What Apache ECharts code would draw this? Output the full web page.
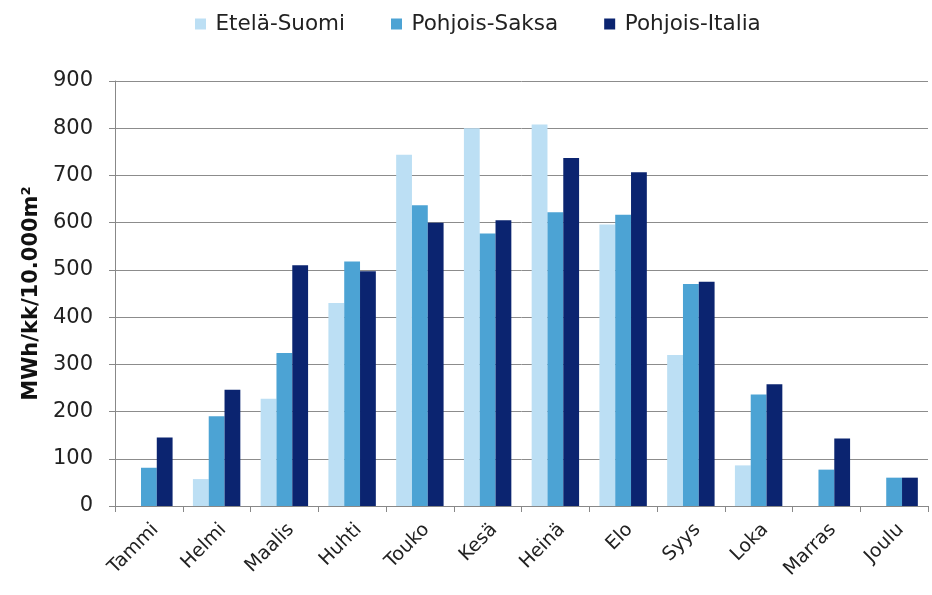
<!DOCTYPE html>
<html><head><meta charset="utf-8">
<script src="https://cdn.jsdelivr.net/npm/echarts@6/dist/echarts.min.js"></script>
<style>html,body{margin:0;padding:0;background:#fff}#c{width:932px;height:595px}</style>
</head><body><div id="c"></div>
<script>
const categories = ['Tammi','Helmi','Maalis','Huhti','Touko','Kesä','Heinä','Elo','Syys','Loka','Marras','Joulu'];
const seriesNames = ['Etelä-Suomi','Pohjois-Saksa','Pohjois-Italia'];
const eteläSuomi = [0, 57, 227, 430, 744, 800, 808, 596, 320, 86, 0, 0];
const pohjoisSaksa = [81, 190, 324, 518, 637, 577, 622, 617, 470, 236, 77, 60];
const pohjoisItalia = [145, 246, 510, 497, 600, 605, 737, 707, 475, 258, 143, 60];
const yTicks = {min: 0, max: 900, interval: 100};
const colors = ['#bcdff4', '#4ca3d4', '#0b2470'];

const chart = echarts.init(document.getElementById('c'), null, {renderer: 'canvas'});
const font = 'DejaVu Sans';
chart.setOption({
  animation: false,
  color: colors,
  textStyle: {fontFamily: font},
  legend: {
    top: 8, left: 190,
    itemWidth: 20, itemHeight: 11, itemGap: 46,
    icon: 'path://M0,0h10v10h-10z',
    textStyle: {fontSize: 21.5, color: '#222', fontFamily: font},
    data: seriesNames
  },
  grid: {left: 115, right: 4, top: 81, bottom: 89},
  xAxis: {
    type: 'category', data: categories,
    axisLine: {lineStyle: {color: '#888'}},
    axisTick: {show: true, alignWithLabel: false, length: 6, lineStyle: {color: '#888'}},
    axisLabel: {rotate: 45, fontSize: 19, color: '#222', margin: 14, interval: 0,
                verticalAlign: 'top', fontFamily: font}
  },
  yAxis: {
    type: 'value', min: yTicks.min, max: yTicks.max, interval: yTicks.interval,
    name: 'MWh/kk/10.000m²', nameLocation: 'middle', nameGap: 73,
    nameTextStyle: {fontSize: 21, fontWeight: 'bold', color: '#111', fontFamily: font},
    axisLine: {show: true, lineStyle: {color: '#888'}},
    axisTick: {show: true, length: 6, lineStyle: {color: '#888'}},
    axisLabel: {fontSize: 21, color: '#222', margin: 22, fontFamily: font},
    splitLine: {lineStyle: {color: '#8c8c8c', width: 1}}
  },
  series: [
    {name: seriesNames[0], type: 'bar', data: eteläSuomi, barGap: '0%', barCategoryGap: '30%'},
    {name: seriesNames[1], type: 'bar', data: pohjoisSaksa, barGap: '0%', barCategoryGap: '30%'},
    {name: seriesNames[2], type: 'bar', data: pohjoisItalia, barGap: '0%', barCategoryGap: '30%'}
  ]
});
</script></body></html>
